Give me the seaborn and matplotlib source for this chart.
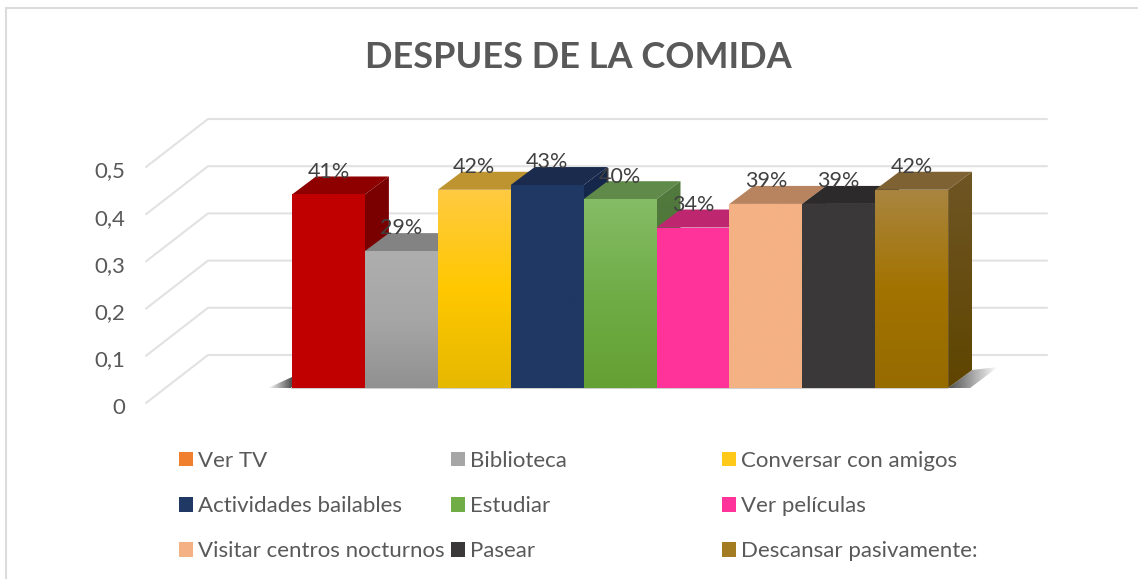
import numpy as np
import matplotlib
matplotlib.use("Agg")
import matplotlib.pyplot as plt
import seaborn as sns
from matplotlib.colors import LinearSegmentedColormap, to_rgb
from matplotlib.lines import Line2D
from matplotlib.patches import Patch, Polygon
from matplotlib.transforms import ScaledTranslation

# Data
categories = ["Ver TV", "Biblioteca", "Conversar con amigos", "Actividades bailables",
              "Estudiar", "Ver películas", "Visitar centros nocturnos", "Pasear",
              "Descansar pasivamente:"]
values = [0.41, 0.29, 0.42, 0.43, 0.40, 0.34, 0.39, 0.39, 0.42]
value_labels = ["41%", "29%", "42%", "43%", "40%", "34%", "39%", "39%", "42%"]
axis_ticks = [0, 0.1, 0.2, 0.3, 0.4, 0.5]
axis_tick_labels = ["0", "0,1", "0,2", "0,3", "0,4", "0,5"]
title = "DESPUES DE LA COMIDA"

# Face colours, top to bottom
front_colors = [["#C00000", "#C00000"], ["#AEAEAE", "#A6A6A6", "#919191"],
                ["#FFCA42", "#FFC800", "#E6B800"], ["#1F3864", "#1F3864"],
                ["#85BC66", "#70AD47", "#64A032"], ["#FF3399", "#FF3399"],
                ["#F4B183", "#F4B183"], ["#3A3838", "#3A3838"],
                ["#A98540", "#A37300", "#966B00"]]
top_colors = ["#8E0000", "#838383", "#BD9430", "#1A2B4D", "#5F8A49",
              "#BF2670", "#B88460", "#2C2A2A", "#7E6234"]
side_colors = [["#7A0000", "#7A0000"], ["#707070", "#606060"], ["#A58020", "#8F7000"],
               ["#15274B", "#15274B"], ["#527A3E", "#4A7030"], ["#A01F60", "#A01F60"],
               ["#A87A5A", "#A87A5A"], ["#282626", "#282626"], ["#6F5524", "#5F4500"]]
legend_colors = ["#F07F2E", "#A6A6A6", "#FFC91A", "#1F3864", "#70AD47",
                 "#FF3399", "#F4B183", "#3A3838", "#A37B20"]

W, H = 1138, 579
PX_PER_UNIT = 472.0
BAR_W = 72.9
TEXT = "#595959"

sns.set_theme(style="white")
plt.rcParams["font.family"] = ["Lato", "DejaVu Sans"]

fig = plt.figure(figsize=(W / 100, H / 100), dpi=100, facecolor="white")


def px_axes(left, right, top, bottom):
    return fig.add_axes([left / W, 1 - bottom / H, (right - left) / W, (bottom - top) / H])


# Back wall: ticks and the bent gridlines
wall_top, wall_bottom = 119, 403
ax_wall = px_axes(146, 1047, wall_top, wall_bottom)
ax_wall.set_xlim(146, 1047)
ax_wall.set_ylim(0, (wall_bottom - wall_top) / PX_PER_UNIT)
for v in axis_ticks:
    d = 48 / PX_PER_UNIT
    ax_wall.plot([146, 208, 1047], [v, v + d, v + d], color="#E2E2E2", lw=1.5,
                 clip_on=False, solid_joinstyle="miter")
ax_wall.set_xticks([])
ax_wall.set_yticks(axis_ticks, axis_tick_labels)
ax_wall.tick_params(axis="y", length=0, pad=15, labelsize=16, labelcolor=TEXT)
for t in ax_wall.get_yticklabels():
    t.set_transform(t.get_transform() + ScaledTranslation(0, -2.5 / 100, fig.dpi_scale_trans))
sns.despine(ax=ax_wall, left=True, bottom=True)
ax_wall.patch.set_alpha(0)

# Bars: baseline at y=388, category step BAR_W
ax = px_axes(146, 1047, 119, 388)
x_left = -0.5 + (146 - 292) / BAR_W
x_right = -0.5 + (1047 - 292) / BAR_W
sns.barplot(x=categories, y=values, hue=categories, order=categories, hue_order=categories,
            palette=[c[0] for c in front_colors], saturation=1, width=1, legend=False, ax=ax)
bars = sorted(ax.patches, key=lambda p: p.get_x())
ax.set_xlim(x_left, x_right)
ax.set_ylim(0, (388 - 119) / PX_PER_UNIT)
ax.set_axis_off()
ax.patch.set_alpha(0)

DX = 24 / BAR_W
DY = 18 / PX_PER_UNIT


def gradient_face(pts, colors, zorder, ymin, ymax):
    cmap = LinearSegmentedColormap.from_list("f", colors)
    xs = [p[0] for p in pts]
    im = ax.imshow(np.linspace(0, 1, 128)[:, None], cmap=cmap, aspect="auto", zorder=zorder,
                   extent=[min(xs), max(xs), ymin, ymax], origin="upper", vmin=0, vmax=1,
                   interpolation="bilinear")
    clip = Polygon(pts, closed=True, transform=ax.transData, fc="none", ec="none")
    ax.add_patch(clip)
    im.set_clip_path(clip)


def shadow(pts, rgb, fade_right, zorder):
    xs = [p[0] for p in pts]
    ys = [p[1] for p in pts]
    alpha = np.linspace(0.85, 0, 64) if fade_right else np.linspace(0, 0.85, 64)
    img = np.zeros((1, 64, 4))
    img[..., :3] = to_rgb(rgb)
    img[..., 3] = alpha
    im = ax.imshow(img, aspect="auto", zorder=zorder, interpolation="bilinear",
                   extent=[min(xs), max(xs), min(ys), max(ys)])
    clip = Polygon(pts, closed=True, transform=ax.transData, fc="none", ec="none")
    ax.add_patch(clip)
    im.set_clip_path(clip)


# Floor shadows on either side of the block
shadow([(-0.5 - 24 / BAR_W, 0), (-0.5, 0), (-0.5, 11 / PX_PER_UNIT)], "#303030", False, 1)
shadow([(8.5, 0), (8.5 + DX, DY), (8.5 + 50 / BAR_W, 21 / PX_PER_UNIT), (8.5 + 22 / BAR_W, 0)],
       "#303030", True, 1)
ax.plot([-0.5, 8.5], [0, 0], color="#CFCFCF", lw=1.5, zorder=1.5, clip_on=False)

# Painted left to right, so each bar covers the side of the one before it
for i, bar in enumerate(bars):
    x0, x1, h = bar.get_x(), bar.get_x() + bar.get_width(), bar.get_height()
    z = 3 + i
    bar.set_zorder(z)
    bar.set_linewidth(0)
    ax.add_patch(Polygon([(x0, h), (x1, h), (x1 + DX, h + DY), (x0 + DX, h + DY)], closed=True,
                         fc=top_colors[i], ec="none", zorder=z))
    gradient_face([(x1, 0), (x1 + DX, DY), (x1 + DX, h + DY), (x1, h)], side_colors[i], z, 0, h + DY)
    gradient_face([(x0, 0), (x1, 0), (x1, h), (x0, h)], front_colors[i], z + 0.5, 0, h)

ax.set_xlim(x_left, x_right)
ax.set_ylim(0, (388 - 119) / PX_PER_UNIT)

for i, (v, lab) in enumerate(zip(values, value_labels)):
    ax.annotate(lab, xy=(i, v), xytext=(0, 16.3), textcoords="offset points", ha="center",
                va="center", fontsize=15.5, color="#404040", zorder=30, annotation_clip=False)

fig.text(578 / W, 1 - 57 / H, title, ha="center", va="center", fontsize=26,
         fontweight="bold", color=TEXT)

# One legend per column so the columns sit on an even grid
col_x = [179, 451, 722]
for c, x in enumerate(col_x):
    idx = [c, c + 3, c + 6]
    handles = [Patch(fc=legend_colors[j], ec="none") for j in idx]
    leg = fig.legend(handles, [categories[j] for j in idx], loc="upper left",
                     bbox_to_anchor=(x / W, 1 - 451 / H), bbox_transform=fig.transFigure,
                     frameon=False, fontsize=16, labelcolor=TEXT, borderpad=0, borderaxespad=0,
                     handlelength=0.63, handleheight=0.63, handletextpad=0.22, labelspacing=1.13)

# Outer frame, only the top and left edges show
fig.add_artist(Line2D([6 / W, 6 / W, 1], [0, 1 - 8 / H, 1 - 8 / H], color="#DCDCDC", lw=1.5,
                      solid_joinstyle="miter"))

fig.savefig("out.png", dpi=100)
